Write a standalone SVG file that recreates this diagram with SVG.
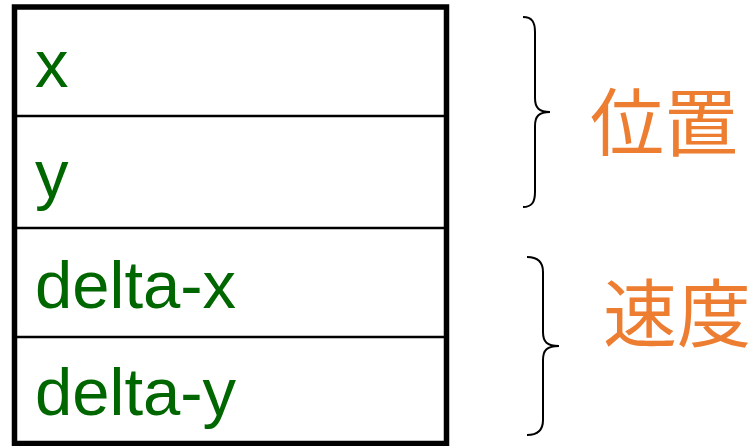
<svg xmlns="http://www.w3.org/2000/svg" width="751" height="446" viewBox="0 0 751 446">
<style>
.lbl{font-family:"Liberation Sans",Arial,sans-serif;font-size:67px;fill:#006600}
.cjk{font-family:"Noto Sans CJK JP","Noto Sans CJK SC",sans-serif;font-size:74px;fill:#ED7D31}
.div{stroke:#000;stroke-width:2.5;fill:none}
.brace{stroke:#000;stroke-width:2;fill:none}
</style>
<rect width="751" height="446" fill="#fff"/>
<g id="table">
<rect x="14.5" y="7" width="432" height="436.5" fill="#fff" stroke="#000" stroke-width="5.5"/>
</g>
<g id="connectors">
<line class="div" x1="12" y1="116" x2="449" y2="116"/>
<line class="div" x1="12" y1="228" x2="449" y2="228"/>
<line class="div" x1="12" y1="337" x2="449" y2="337"/>
</g>
<g id="row-x"><text class="lbl" x="35" y="87">x</text></g>
<g id="row-y"><text class="lbl" x="35" y="197">y</text></g>
<g id="row-dx"><text class="lbl" x="35" y="307.5">delta-x</text></g>
<g id="row-dy"><text class="lbl" x="35" y="415">delta-y</text></g>
<g id="brace-pos">
<path class="brace" d="M523,17 C532,17 535,22 535,32 L535,98 C535,108 539,112 550,112 C539,112 535,116 535,126 L535,192 C535,202 532,207 523,207"/>
<text class="cjk" x="590" y="150">位置</text>
</g>
<g id="brace-vel">
<path class="brace" d="M527,257 C538,257 543,262 543,272 L543,332 C543,342 547,346 559,346 C547,346 543,350 543,360 L543,420 C543,430 538,435 527,435"/>
<text class="cjk" x="603" y="341">速度</text>
</g>
</svg>
